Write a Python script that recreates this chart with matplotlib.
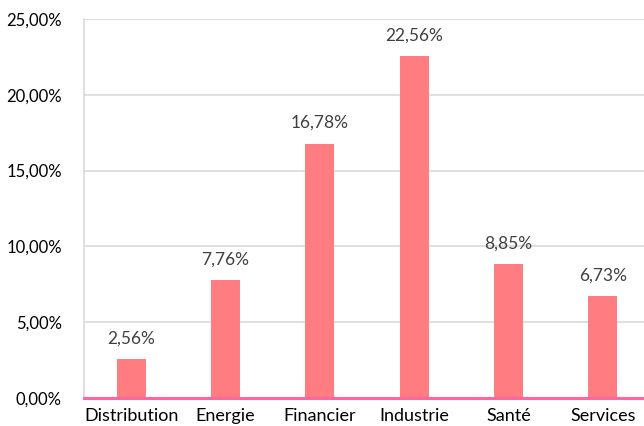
import matplotlib
matplotlib.use("Agg")
import matplotlib.pyplot as plt

categories = ["Distribution", "Energie", "Financier", "Industrie", "Santé", "Services"]
values = [2.56, 7.76, 16.78, 22.56, 8.85, 6.73]
yticks = [0, 5, 10, 15, 20, 25]

plt.rcParams['font.family'] = ['Lato', 'DejaVu Sans']

fig = plt.figure(figsize=(6.44, 4.26), dpi=100)
ax = fig.add_axes([84/644, 28/426, 566/644, 379/426])
x = list(range(len(categories)))
ax.bar(x, values, width=0.31, color="#FF7C80", zorder=3)
for xi, v in zip(x, values):
    ax.annotate(f"{v:.2f}%".replace(".", ","), (xi, v), xytext=(0, 9),
                textcoords="offset points", ha="center", va="bottom",
                fontsize=12.5, color="#404040")
ax.set_xlim(-0.5, len(categories) - 0.5)
ax.set_ylim(0, 25)
ax.set_yticks(yticks)
ax.set_yticklabels([f"{t:.2f}%".replace(".", ",") for t in yticks], fontsize=12, color="#000000")
ax.set_xticks(x)
ax.set_xticklabels(categories, fontsize=13, color="#000000")
ax.tick_params(axis="both", length=0)
ax.tick_params(axis="y", pad=16)
ax.tick_params(axis="x", pad=7.5)
ax.grid(axis="y", color="#D9D9D9", linewidth=1.2, zorder=0)
ax.set_axisbelow(True)
for s in ["top", "right"]:
    ax.spines[s].set_visible(False)
ax.spines["left"].set_color("#D9D9D9")
ax.spines["left"].set_linewidth(1.2)
ax.spines["bottom"].set_color("#FF66A0")
ax.spines["bottom"].set_linewidth(2.2)
ax.spines["bottom"].set_zorder(4)
fig.savefig("out.png", dpi=100)
